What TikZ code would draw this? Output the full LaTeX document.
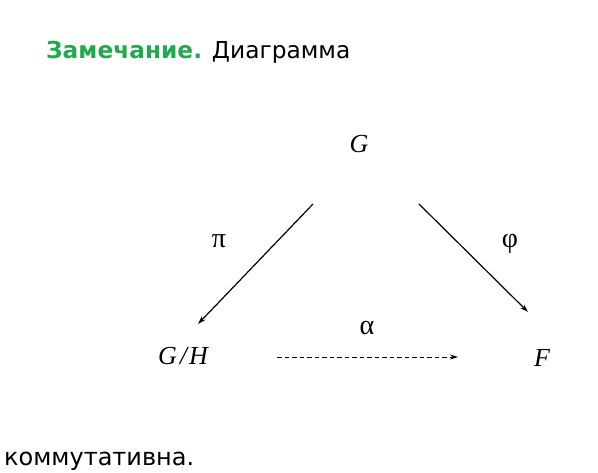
\documentclass[tikz,border=0pt]{standalone}
\usepackage{fontspec}
\usetikzlibrary{arrows.meta}
\setmainfont{DejaVu Sans}
\newfontfamily\mathlike{Liberation Serif}
\definecolor{titlegreen}{RGB}{32,170,78}
\begin{document}
\begin{tikzpicture}[x=1pt,y=-1pt,
  txt/.style={inner sep=0pt, anchor=base west, font=\fontsize{23.3}{26}\selectfont},
  obj/.style={inner sep=2pt, font=\mathlike\itshape\fontsize{26}{28}\selectfont},
  lab/.style={inner sep=0pt, font=\mathlike\fontsize{28}{30}\selectfont},
  arr/.style={-{Stealth[length=8pt,width=5pt]}, line width=1.2pt, black}]
\useasboundingbox (0,0) rectangle (598,472);
\node[txt] (title) at (46,58) {\textcolor{titlegreen}{\bfseries Замечание.} Диаграмма};
\node[obj] (G) at (359,144) {G};
\node[obj] (GH) at (183,356) {G\kern3pt/\kern2pt H};
\node[obj] (F) at (542,358) {F};
\coordinate (a1) at (313,204);
\coordinate (a2) at (198,324);
\coordinate (b1) at (419,204);
\coordinate (b2) at (528,312);
\coordinate (c1) at (277,357);
\coordinate (c2) at (458,357);
\draw[arr] (a1) -- (a2);
\draw[arr] (b1) -- (b2);
\draw[arr, line width=1pt, dash pattern=on 4.5pt off 3pt] (c1) -- (c2);
\node[lab] (pi) at (219,241) {π};
\node[lab] (phi) at (510,244) {φ};
\node[lab] (alpha) at (367,328) {α};
\node[txt] (comm) at (4,465) {\fontsize{24}{26}\selectfont коммутативна.};
\end{tikzpicture}
\end{document}
